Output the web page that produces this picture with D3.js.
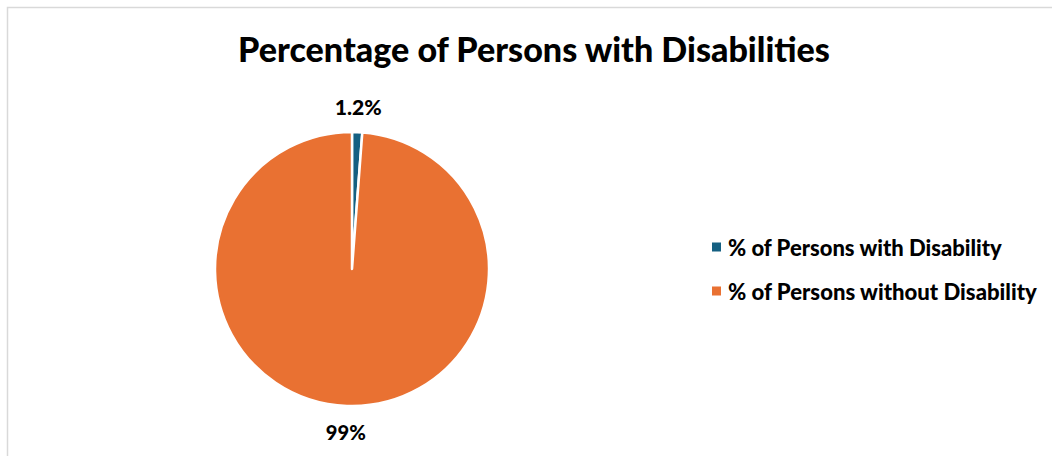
<!DOCTYPE html>
<html>
<head>
<meta charset="utf-8">
<script src="https://cdn.jsdelivr.net/npm/d3@7"></script>
<style>
  body { margin: 0; background: #fff; }
  text { font-family: Lato, "Open Sans", sans-serif; font-weight: 900; fill: #000; }
</style>
</head>
<body>
<div id="container"></div>
<script>
/* DATA */
const categories = ["% of Persons with Disability", "% of Persons without Disability"];
const values = [1.2, 98.8];
const valueLabels = ["1.2%", "99%"];
const colors = ["#156082", "#E97132"];
const title = "Percentage of Persons with Disabilities";

/* LAYOUT */
const width = 1052, height = 456;
const cx = 352, cy = 269, radius = 137, labelRadius = 163;

const svg = d3.select("#container").append("svg")
  .attr("width", width)
  .attr("height", height);

// chart border (right and bottom run off the picture)
svg.append("rect")
  .attr("x", 7.5).attr("y", 7.5)
  .attr("width", 1200).attr("height", 600)
  .attr("fill", "none")
  .attr("stroke", "#d9d9d9")
  .attr("stroke-width", 1.5);

// scale font size so text matches a target width
function fit(sel, target, base) {
  sel.style("font-size", base + "px");
  const w = sel.node().getComputedTextLength();
  sel.style("font-size", (base * target / w) + "px");
  return sel;
}

// title
fit(svg.append("text")
  .attr("x", 534).attr("y", 62)
  .attr("text-anchor", "middle")
  .text(title), 592, 30);

// pie
const data = categories.map((c, i) => ({ name: c, value: values[i], label: valueLabels[i], color: colors[i] }));
const pie = d3.pie().sort(null).value(d => d.value);
const arc = d3.arc().innerRadius(0).outerRadius(radius);
const labelArc = d3.arc().innerRadius(labelRadius).outerRadius(labelRadius);

const g = svg.append("g").attr("transform", `translate(${cx},${cy})`);
const arcs = pie(data);

g.selectAll("path.slice")
  .data(arcs)
  .join("path")
  .attr("class", "slice")
  .attr("d", arc)
  .attr("fill", d => d.data.color)
  .attr("stroke", "#fff")
  .attr("stroke-width", 2.5)
  .attr("stroke-linejoin", "round");

const labelWidths = [47, 40];
g.selectAll("text.lbl")
  .data(arcs)
  .join("text")
  .attr("class", "lbl")
  .attr("text-anchor", "middle")
  .attr("dominant-baseline", "central")
  .attr("transform", d => {
    const [x, y] = labelArc.centroid(d);
    return `translate(${x},${y})`;
  })
  .text(d => d.data.label)
  .each(function(d, i) { fit(d3.select(this), labelWidths[i], 18); });

// legend
const legendWidths = [274, 309];
const legendY = d3.scalePoint().domain(categories).range([247, 291]);
const legend = svg.append("g").selectAll("g")
  .data(data)
  .join("g")
  .attr("transform", d => `translate(712,${legendY(d.name)})`);

legend.append("rect")
  .attr("x", 0).attr("y", -4.5)
  .attr("width", 9).attr("height", 9)
  .attr("fill", d => d.color);

legend.append("text")
  .attr("x", 16)
  .attr("dominant-baseline", "central")
  .text(d => d.name)
  .each(function(d, i) { fit(d3.select(this), legendWidths[i], 17); });
</script>
</body>
</html>
